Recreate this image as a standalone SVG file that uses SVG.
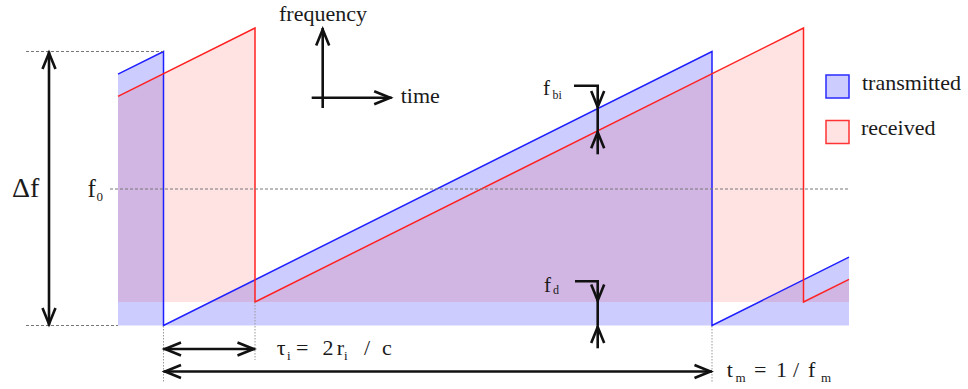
<svg xmlns="http://www.w3.org/2000/svg" width="968" height="389" viewBox="0 0 968 389" font-family="'Liberation Serif', 'DejaVu Serif', 'Times New Roman', serif">
<style>
text{font-family:"Liberation Serif","DejaVu Serif","Times New Roman",serif;fill:#1a1a1a}
.lbl{font-size:22px}
.sub{font-size:13px}
.blk{stroke:#111;stroke-width:2.6;fill:none}
.dash{stroke:#777;stroke-width:1;stroke-dasharray:3 2;fill:none}
.dot{stroke:#999;stroke-width:1;stroke-dasharray:1.5 1.5;fill:none}
.tx{stroke:#1f1fff;stroke-width:1.5;fill:none;stroke-linejoin:miter}
.rx{stroke:#ff2222;stroke-width:1.5;fill:none}
</style>
<defs>
<marker id="ah" markerUnits="userSpaceOnUse" markerWidth="24" markerHeight="20" viewBox="-20 -10 24 20" refX="1.5" refY="0" orient="auto-start-reverse">
<path d="M-16 -6.5 L0 0 L-16 6.5" fill="none" stroke="#111" stroke-width="2.6" stroke-linejoin="miter"/>
</marker>
</defs>
<g id="signals">
<polygon id="tx-fill" points="118,74.2 163.5,51.5 163.5,325.5 712,51.5 712,325.5 849,257.1 849,325.5 118,325.5" fill="#0000ff" fill-opacity="0.2"/>
<polygon id="rx-fill" points="118,96.4 255,28 255,302 803.5,28 803.5,302 849,279.3 849,302 118,302" fill="#ff0000" fill-opacity="0.11"/>
<polyline id="tx-line" class="tx" points="118,74.2 163.5,51.5 163.5,325.5 712,51.5 712,325.5 849,257.1"/>
<polyline id="rx-line" class="rx" points="118,96.4 255,28 255,302 803.5,28 803.5,302 849,279.3"/>
</g>
<g id="guides">
<line class="dash" x1="26" y1="51.5" x2="163" y2="51.5"/>
<line class="dash" x1="26" y1="325.5" x2="118" y2="325.5"/>
<line class="dash" x1="110" y1="189" x2="849" y2="189"/>
<line class="dot" x1="163.5" y1="326" x2="163.5" y2="383"/>
<line class="dot" x1="255" y1="302" x2="255" y2="360"/>
<line class="dot" x1="712" y1="326" x2="712" y2="383"/>
</g>
<g id="connectors">
<line class="blk" x1="49" y1="51.5" x2="49" y2="325.5" marker-start="url(#ah)" marker-end="url(#ah)"/>
<line class="blk" x1="322.7" y1="108" x2="322.7" y2="28" marker-end="url(#ah)"/>
<line class="blk" x1="311.7" y1="97.7" x2="391.7" y2="97.7" marker-end="url(#ah)"/>
<path class="blk" d="M574 85.7 H597.7 V108.6" marker-end="url(#ah)"/>
<line class="blk" x1="597.7" y1="108.6" x2="597.7" y2="130.8"/>
<line class="blk" x1="597.7" y1="154.3" x2="597.7" y2="130.8" marker-end="url(#ah)"/>
<path class="blk" d="M575 281.3 H597.7 V302" marker-end="url(#ah)"/>
<line class="blk" x1="597.7" y1="302" x2="597.7" y2="325.5"/>
<line class="blk" x1="597.7" y1="348.3" x2="597.7" y2="325.5" marker-end="url(#ah)"/>
<line class="blk" x1="163.5" y1="349" x2="255" y2="349" marker-start="url(#ah)" marker-end="url(#ah)"/>
<line class="blk" x1="163.5" y1="371.5" x2="712" y2="371.5" marker-start="url(#ah)" marker-end="url(#ah)"/>
</g>
<g id="axes-labels">
<text class="lbl" x="279" y="20.5">frequency</text>
<text class="lbl" x="400.7" y="102.7">time</text>
</g>
<g id="delta-f">
<text x="12" y="197" font-size="28">Δf</text>
</g>
<g id="f0">
<text x="87.5" y="197" font-size="25">f</text>
<text class="sub" x="96.5" y="200.5">0</text>
</g>
<g id="fbi">
<text x="543" y="95" font-size="21">f</text>
<text x="552.5" y="98.5" font-size="12">bi</text>
</g>
<g id="fd">
<text x="544" y="291.5" font-size="21">f</text>
<text x="553" y="294" font-size="12">d</text>
</g>
<g id="tau">
<text class="lbl" x="276.7" y="355">τ</text>
<text class="sub" x="287" y="360">i</text>
<text class="lbl" x="296" y="355">=</text>
<text class="lbl" x="322.5" y="355">2</text>
<text class="lbl" x="336.7" y="355">r</text>
<text class="sub" x="344" y="360">i</text>
<text class="lbl" x="364" y="355">/</text>
<text class="lbl" x="382" y="355">c</text>
</g>
<g id="tm">
<text class="lbl" x="726.7" y="377">t</text>
<text class="sub" x="735.5" y="382">m</text>
<text class="lbl" x="754" y="377">=</text>
<text class="lbl" x="776" y="377">1</text>
<text class="lbl" x="793" y="377">/</text>
<text class="lbl" x="808" y="377">f</text>
<text class="sub" x="821" y="382">m</text>
</g>
<g id="legend-transmitted">
<rect x="826" y="75" width="23" height="23" fill="#ccccff" stroke="#2a2aff" stroke-width="1.5"/>
<text class="lbl" x="862" y="90">transmitted</text>
</g>
<g id="legend-received">
<rect x="826" y="120.5" width="23" height="23" fill="#ffe3e3" stroke="#ff3333" stroke-width="1.5"/>
<text class="lbl" x="861" y="135">received</text>
</g>
</svg>
